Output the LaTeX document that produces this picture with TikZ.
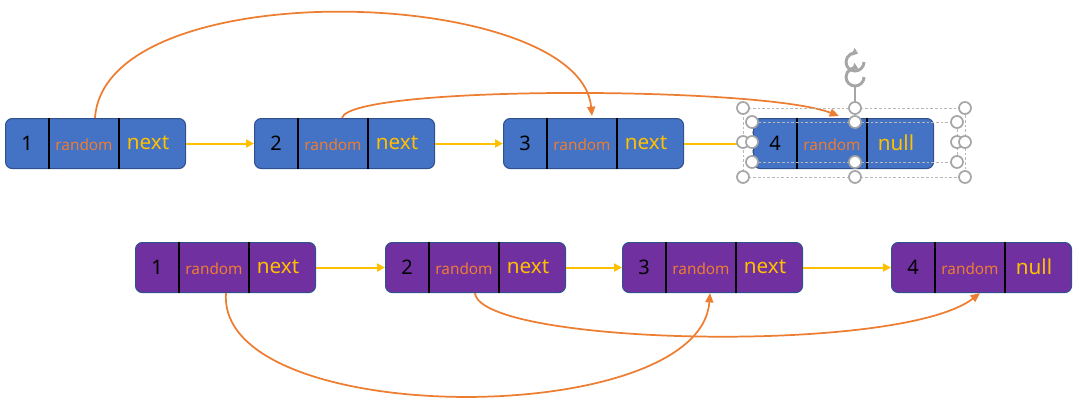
\documentclass[tikz,border=0pt]{standalone}
\usepackage{fontspec}
\setmainfont{Noto Sans}
\usetikzlibrary{calc,arrows.meta}
\definecolor{tblue}{HTML}{4472C4}
\definecolor{tpurple}{HTML}{7030A0}
\definecolor{edgeb}{HTML}{2F528F}
\definecolor{orng}{HTML}{ED7D31}
\definecolor{yel}{HTML}{FFC000}
\definecolor{hgrey}{HTML}{A6A6A6}
\tikzset{
 box/.style={draw=edgeb, line width=0.8pt, rounded corners=5pt, minimum width=135pt, minimum height=37.5pt, inner sep=0pt, anchor=north west},
 numtxt/.style={font=\fontsize{15}{15}\selectfont, text=black},
 rndtxt/.style={font=\fontsize{11.5}{12}\selectfont, text=orng},
 nxttxt/.style={font=\fontsize{15.5}{16}\selectfont, text=yel},
 divider/.style={black, line width=1.4pt},
 nextarrow/.style={draw=yel, line width=1.5pt, -{Triangle[length=6pt,width=6pt]}},
 rndarrow/.style={draw=orng, line width=1.3pt, -{Triangle[length=7pt,width=6pt]}},
 handle/.style={circle, draw=hgrey, fill=white, line width=1.3pt, minimum size=9pt, inner sep=0pt},
 selframe/.style={draw=hgrey!80, line width=0.5pt, dash pattern=on 2pt off 1.5pt},
 rotarc/.style={draw=hgrey, line width=2.2pt, -{Triangle[length=4pt,width=6pt]}},
}
\newcommand\listbox[6]{%
 \node[box, fill=#4] (#1) at (#2,#3) {};
 \draw[divider] ($(#1.north west)+(44,0)$) -- ($(#1.south west)+(44,0)$);
 \draw[divider] ($(#1.north west)+(114,0)$) -- ($(#1.south west)+(114,0)$);
 \node[numtxt] (#1n) at ($(#1.north west)+(22,25)$) {#5};
 \node[rndtxt] (#1r) at ($(#1.north west)+(79,27)$) {random};
 \node[nxttxt] (#1x) at ($(#1.north west)+(143,25)$) {#6};
}
\begin{document}
\begin{tikzpicture}[x=0.75pt,y=-0.75pt]
\useasboundingbox (0,0) rectangle (1079,401);
% top row
\listbox{a1}{5}{118}{tblue}{1}{next}
\listbox{a2}{254}{118}{tblue}{2}{next}
\listbox{a3}{503}{118}{tblue}{3}{next}
\listbox{a4}{753}{118}{tblue}{4}{null}
% bottom row
\listbox{b1}{135}{242}{tpurple}{1}{next}
\listbox{b2}{385}{242}{tpurple}{2}{next}
\listbox{b3}{622}{242}{tpurple}{3}{next}
\listbox{b4}{891}{242}{tpurple}{4}{null}
% next arrows
\draw[nextarrow] (a1.east) -- (a2.west);
\draw[nextarrow] (a2.east) -- (a3.west);
\draw[nextarrow] (a3.east) -- (a4.west);
\draw[nextarrow] (b1.east) -- (b2.west);
\draw[nextarrow] (b2.east) -- (b3.west);
\draw[nextarrow] (b3.east) -- (b4.west);
% random arrows
\coordinate (s1) at ($(a1.north west)+(90,0)$);
\coordinate (e1) at ($(a3.north west)+(89,-2)$);
\draw[rndarrow] (s1) .. controls ($(s1)+(10,-148)$) and ($(e1)+(-12,-130)$) .. (e1);
\coordinate (s2) at ($(a2.north west)+(88,0)$);
\coordinate (e2) at ($(a4.north west)+(86,-2)$);
\draw[rndarrow] (s2) .. controls ($(s2)+(8,-33)$) and ($(e2)+(-78,-30)$) .. (e2);
\coordinate (s3) at ($(b1.south west)+(91,0)$);
\coordinate (e3) at ($(b3.south west)+(88,0)$);
\draw[rndarrow] (s3) .. controls ($(s3)+(-10,137)$) and ($(e3)+(-10,137)$) .. (e3);
\coordinate (s4) at ($(b2.south west)+(90,0)$);
\coordinate (e4) at ($(b4.south west)+(89,0)$);
\draw[rndarrow] (s4) .. controls ($(s4)+(5,52)$) and ($(e4)+(-80,62)$) .. (e4);
% selection handles on the last top node
\draw[selframe] (743,108) rectangle (965,177);
\draw[selframe] (752,122) rectangle (957,162);
\draw[hgrey, line width=0.8pt] (855,86) -- (855,108);
\foreach \p [count=\i] in {(743,108),(855,108),(965,108),(743,177),(855,177),(965,177),(752,122),(855,122),(957,122),(752,162),(855,162),(957,162),(743,142),(752,142),(957,142),(965,142)}
  \node[handle] (h\i) at \p {};
\draw[rotarc] (864,62) arc[start angle=0, end angle=290, radius=9];
\draw[rotarc] (864,77) arc[start angle=0, end angle=290, radius=9];
\end{tikzpicture}
\end{document}
